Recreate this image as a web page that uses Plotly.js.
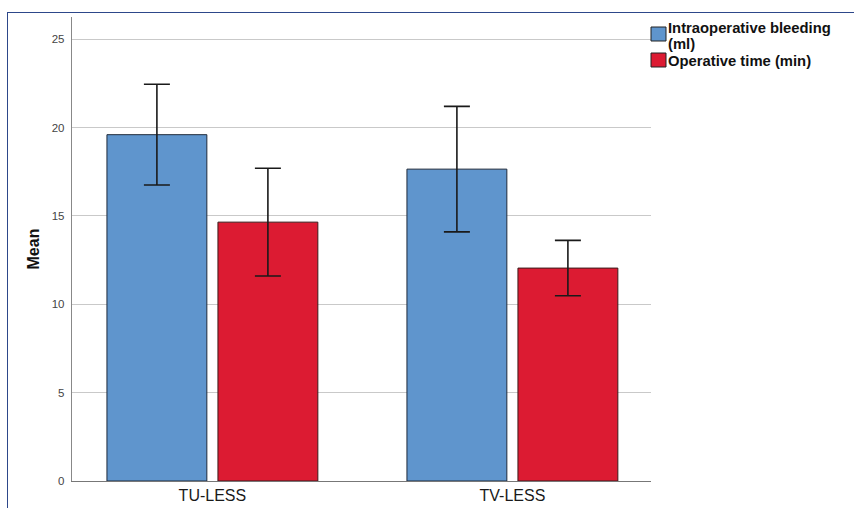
<!DOCTYPE html>
<html>
<head>
<meta charset="utf-8">
<script src="https://cdn.plot.ly/plotly-3.0.1.min.js"></script>
<style>
  html, body { margin: 0; padding: 0; background: #fff; }
  #wrap { position: relative; width: 854px; height: 508px; }
  #chart { width: 854px; height: 508px; }
  #frame { position: absolute; left: 7px; top: 12px; right: -2px; bottom: -2px;
           border-left: 1.5px solid #2d478a; border-top: 1.5px solid #2d478a; pointer-events: none; }
</style>
</head>
<body>
<div id="wrap">
  <div id="chart"></div>
  <div id="frame"></div>
</div>
<script>
const categories = ["TU-LESS", "TV-LESS"];
const seriesNames = ["Intraoperative bleeding (ml)", "Operative time (min)"];
const legendLines = [["Intraoperative bleeding", "(ml)"], ["Operative time (min)"]];
const bleedingMean = [19.6, 17.65];
const bleedingErr = [2.85, 3.55];
const timeMean = [14.65, 12.05];
const timeErr = [3.05, 1.57];
const yTicks = [0, 5, 10, 15, 20, 25];

const colors = ["#5f95cd", "#dc1b32"];
const font = "Liberation Sans, Arial, sans-serif";

// plot area in pixels (for legend placement in paper coords)
const L = 72, R = 651, T = 17, B = 481;
const px = x => (x - L) / (R - L);
const py = y => (B - y) / (B - T);

const errStyle = { type: "data", visible: true, color: "#1a1a1a", thickness: 1.6, width: 13 };

const traces = [
  { type: "bar", name: seriesNames[0], x: categories, y: bleedingMean,
    marker: { color: colors[0], line: { color: "#1f2a3a", width: 1 } },
    error_y: Object.assign({ array: bleedingErr }, errStyle), hoverinfo: "y" },
  { type: "bar", name: seriesNames[1], x: categories, y: timeMean,
    marker: { color: colors[1], line: { color: "#3a1a1a", width: 1 } },
    error_y: Object.assign({ array: timeErr }, errStyle), hoverinfo: "y" }
];

const shapes = [];
const annotations = [];
const squareTops = [27, 53];
const lineCenters = [[28, 43.5], [61]];
for (let i = 0; i < 2; i++) {
  shapes.push({ type: "rect", xref: "paper", yref: "paper",
    x0: px(651), x1: px(666), y0: py(squareTops[i]), y1: py(squareTops[i] + 14),
    fillcolor: colors[i], line: { color: "#222", width: 1 } });
  legendLines[i].forEach((t, j) => {
    annotations.push({ xref: "paper", yref: "paper", x: px(666), y: py(lineCenters[i][j]),
      xanchor: "left", yanchor: "middle", align: "left", showarrow: false,
      text: t, font: { family: font, size: 14.8, color: "#111", weight: "bold" } });
  });
}

const layout = {
  width: 854, height: 508,
  margin: { l: L, r: 854 - R, t: T, b: 508 - B },
  paper_bgcolor: "#fff", plot_bgcolor: "#fff",
  barmode: "group", bargap: 0.26, bargroupgap: 0.1,
  showlegend: false,
  font: { family: font },
  xaxis: {
    type: "category", range: [-0.468, 1.462],
    showgrid: false, zeroline: false,
    showline: true, linecolor: "#777", linewidth: 1.2,
    ticks: "", tickfont: { family: font, size: 16, color: "#1a1a1a" },
    fixedrange: true
  },
  yaxis: {
    range: [0, 26.26], tickvals: yTicks, ticktext: yTicks.map(String),
    showgrid: true, gridcolor: "#c9c9c9", gridwidth: 1,
    zeroline: false, showline: true, linecolor: "#888", linewidth: 1.2,
    ticks: "", ticklabelstandoff: 4,
    tickfont: { family: font, size: 11.5, color: "#444" },
    title: { text: "Mean", standoff: 8, font: { family: font, size: 16, color: "#111", weight: "bold" } },
    fixedrange: true
  },
  shapes: shapes,
  annotations: annotations
};

Plotly.newPlot("chart", traces, layout, { displayModeBar: false, staticPlot: true });
</script>
</body>
</html>
